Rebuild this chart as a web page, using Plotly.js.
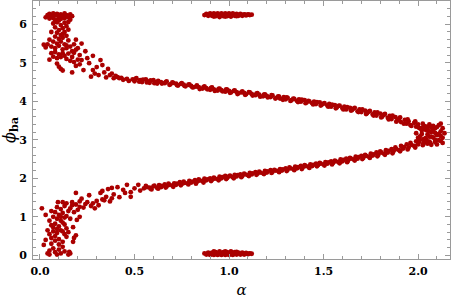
<!DOCTYPE html>
<html><head><meta charset="utf-8">
<script src="https://cdn.plot.ly/plotly-3.0.1.min.js"></script>
<style>body{margin:0;background:#fff}#c{width:454px;height:300px}</style>
</head><body><div id="c"></div>
<script>
// Upper-left cluster
const upperClusterX = [0.03,0.04,0.05,0.05,0.06,0.07,0.07,0.08,0.09,0.09,0.10,0.11,0.11,0.12,0.13,0.13,0.14,0.15,0.16,0.16,0.17,
 0.07,0.08,0.09,0.10,0.11,0.12,0.13,0.14,0.09,0.11,0.13,0.08,0.10,0.12,0.14,0.15,0.07,0.09,0.11,0.13,0.15,0.16,0.06,0.08,0.10,0.12,0.14,0.17,0.05,0.04,0.03,0.02,0.06,0.08,0.10,0.12,0.13,0.15,0.17,0.18,0.19,0.11,0.09,0.07,0.14,0.16,0.18,0.05,0.09,0.10,0.11,0.12,0.17,0.19,0.14,0.12,0.10,0.08,0.15,0.06,0.18,0.20,0.21];
const upperClusterY = [6.18,6.24,6.15,6.27,6.21,6.28,6.16,6.23,6.27,6.12,6.20,6.26,6.14,6.22,6.28,6.16,6.24,6.18,6.26,6.12,6.21,
 6.02,5.92,6.05,5.85,5.98,5.90,6.04,5.95,5.78,5.72,5.80,5.68,5.62,5.65,5.70,5.86,5.55,5.50,5.55,5.48,5.58,5.42,5.42,5.38,5.44,5.35,5.38,5.30,5.60,5.48,5.40,5.47,5.25,5.28,5.22,5.25,5.18,5.24,5.15,5.26,5.34,5.15,5.12,5.16,5.10,5.05,5.02,5.08,4.98,4.90,4.84,4.80,4.75,4.92,5.45,5.75,6.10,6.08,6.06,5.80,5.48,5.08,4.96];

// Upper branch, scattered start
const upperScatterX = [0.19,0.20,0.21,0.22,0.22,0.23,0.24,0.25,0.26,0.27,0.28,0.28,0.29,0.30,0.31,0.32,0.33,0.34,0.35,0.36,0.37,0.38,0.39,0.40,0.41,0.43];
const upperScatterY = [5.60,5.38,5.20,5.50,5.07,4.81,5.30,5.12,4.99,4.64,4.81,5.18,4.72,4.89,4.68,5.07,4.94,4.75,4.62,4.84,4.68,4.72,4.60,4.66,4.63,4.61];

// Upper branch
const upperBranchX = [0.42,0.44,0.46,0.47,0.49,0.50,0.51,0.53,0.54,0.56,0.57,0.58,0.60,0.61,0.62,0.64,0.66,0.67,0.69,0.70,0.72,0.73,0.75,0.76,0.77,0.79,0.80,0.81,0.83,0.84,0.86,0.87,0.88,0.90,0.91,0.92,0.94,0.95,0.96,0.98,0.99,1.00,1.01,1.03,1.04,1.05,1.07,1.08,1.09,1.11,1.12,1.14,1.15,1.16,1.18,1.19,1.20,1.22,1.23,1.25,1.26,1.27,1.29,1.30,1.31,1.33,1.34,1.36,1.37,1.38,1.40,1.41,1.42,1.44,1.45,1.46,1.48,1.49,1.50,1.52,1.53,1.54,1.56,1.57,1.58,1.60,1.61,1.62,1.64,1.65,1.66,1.68,1.69,1.70,1.72,1.73,1.74,1.76,1.77,1.78,1.80,1.81,1.82,1.84,1.85,1.86,1.88,1.89,1.90,1.91,1.93,1.94,1.95,1.96,1.98,1.99,2.00,2.01,2.03,2.04,2.05,2.06,2.08,2.09];
const upperBranchY = [4.60,4.56,4.58,4.53,4.57,4.52,4.60,4.55,4.50,4.57,4.52,4.48,4.55,4.50,4.46,4.50,4.47,4.52,4.44,4.49,4.46,4.41,4.47,4.43,4.39,4.44,4.40,4.36,4.41,4.37,4.33,4.39,4.34,4.30,4.36,4.31,4.28,4.33,4.29,4.25,4.30,4.27,4.23,4.28,4.24,4.21,4.26,4.22,4.18,4.23,4.19,4.16,4.21,4.17,4.13,4.18,4.14,4.11,4.15,4.09,4.13,4.07,4.11,4.05,4.09,4.03,4.07,4.01,4.05,3.99,4.03,3.97,4.01,3.95,3.99,3.93,3.97,3.91,3.94,3.89,3.93,3.86,3.90,3.84,3.88,3.82,3.86,3.79,3.83,3.77,3.81,3.74,3.79,3.72,3.76,3.69,3.73,3.66,3.71,3.63,3.68,3.60,3.65,3.57,3.62,3.54,3.59,3.50,3.55,3.46,3.52,3.42,3.48,3.38,3.44,3.34,3.40,3.30,3.36,3.26,3.32,3.22,3.28,3.18];
const upperBranch2X = [0.505,0.525,0.545,0.565,0.585,0.605,0.625,0.645,0.665,0.685,0.705,0.725,0.745,0.765,0.785,0.805,0.825,0.845,0.865,0.885,0.905,0.925,0.945,0.965,0.985,1.005,1.025,1.045,1.065,1.085,1.105,1.125,1.145,1.165,1.185,1.205,1.225,1.245,1.265,1.285,1.305,1.325,1.345,1.365,1.385,1.405,1.425,1.445,1.465,1.485,1.505,1.525,1.545,1.565,1.585,1.605,1.625,1.645,1.665,1.685,1.705,1.725,1.745,1.765,1.785,1.805,1.825,1.845,1.865,1.885,1.905,1.925,1.945,1.965,1.985,2.005,2.025,2.045,2.065];
const upperBranch2Y = [4.58,4.51,4.56,4.49,4.54,4.47,4.53,4.46,4.50,4.43,4.48,4.42,4.45,4.40,4.43,4.37,4.38,4.32,4.37,4.31,4.35,4.27,4.32,4.26,4.31,4.22,4.27,4.19,4.23,4.17,4.24,4.15,4.20,4.12,4.17,4.10,4.16,4.07,4.12,4.04,4.10,4.01,4.06,3.98,4.04,3.95,4.00,3.92,3.98,3.89,3.95,3.86,3.91,3.82,3.89,3.79,3.85,3.76,3.83,3.72,3.79,3.67,3.75,3.63,3.71,3.58,3.67,3.53,3.63,3.47,3.58,3.42,3.53,3.36,3.48,3.31,3.42,3.27,3.35];

// Tip cluster
const tipX = [1.99,2.01,2.02,2.03,2.05,2.06,2.07,2.08,2.09,2.10,2.11,2.12,2.13,2.11,2.10,2.14,2.12,2.13,2.04,2.03,2.06,2.07,2.09,2.08,2.12,2.00,2.02,2.05,2.02,2.04,2.06,2.08,2.10,2.11,2.09,2.07,2.05,2.12,2.13];
const tipY = [3.17,3.09,3.25,3.02,3.14,2.95,3.20,3.06,3.30,3.12,2.99,3.22,3.05,3.38,2.88,3.17,3.42,2.92,3.35,2.93,3.40,2.87,3.00,3.36,3.10,3.05,3.15,3.24,3.30,2.99,3.08,3.27,3.33,3.15,2.94,3.32,2.90,2.97,3.30];

// Lower branch
const lowerBranchX = [0.55,0.56,0.58,0.59,0.60,0.62,0.63,0.64,0.66,0.67,0.68,0.70,0.71,0.72,0.74,0.75,0.76,0.78,0.79,0.80,0.82,0.83,0.84,0.86,0.87,0.88,0.90,0.91,0.92,0.94,0.95,0.96,0.98,0.99,1.00,1.02,1.03,1.04,1.06,1.07,1.08,1.10,1.11,1.12,1.14,1.15,1.16,1.18,1.19,1.20,1.22,1.23,1.24,1.26,1.27,1.28,1.30,1.31,1.32,1.34,1.35,1.36,1.38,1.39,1.40,1.42,1.43,1.44,1.46,1.47,1.48,1.50,1.51,1.52,1.54,1.55,1.56,1.58,1.59,1.60,1.62,1.63,1.64,1.66,1.67,1.68,1.70,1.71,1.72,1.74,1.75,1.76,1.78,1.79,1.80,1.82,1.83,1.84,1.86,1.87,1.88,1.90,1.91,1.92,1.94,1.95,1.96,1.98,1.99,2.00,2.01,2.03,2.04,2.05,2.07];
const lowerBranchY = [1.74,1.80,1.76,1.71,1.79,1.75,1.82,1.77,1.84,1.79,1.86,1.81,1.87,1.83,1.90,1.85,1.91,1.87,1.93,1.89,1.95,1.91,1.97,1.93,1.99,1.95,2.00,1.96,2.02,1.98,2.04,2.00,2.06,2.01,2.05,2.03,2.09,2.05,2.10,2.06,2.12,2.08,2.14,2.10,2.16,2.12,2.17,2.13,2.19,2.15,2.21,2.17,2.22,2.19,2.24,2.20,2.26,2.22,2.28,2.24,2.30,2.26,2.32,2.28,2.34,2.30,2.36,2.32,2.38,2.34,2.40,2.36,2.42,2.38,2.44,2.40,2.46,2.42,2.49,2.44,2.51,2.46,2.53,2.49,2.56,2.51,2.58,2.53,2.61,2.56,2.64,2.59,2.67,2.61,2.70,2.64,2.73,2.67,2.76,2.70,2.80,2.73,2.84,2.77,2.88,2.80,2.92,2.84,2.96,2.88,3.00,2.91,3.04,2.95,3.08];
const lowerBranch2X = [0.565,0.585,0.605,0.625,0.645,0.665,0.685,0.705,0.725,0.745,0.765,0.785,0.805,0.825,0.845,0.865,0.885,0.905,0.925,0.945,0.965,0.985,1.005,1.025,1.045,1.065,1.085,1.105,1.125,1.145,1.165,1.185,1.205,1.225,1.245,1.265,1.285,1.305,1.325,1.345,1.365,1.385,1.405,1.425,1.445,1.465,1.485,1.505,1.525,1.545,1.565,1.585,1.605,1.625,1.645,1.665,1.685,1.705,1.725,1.745,1.765,1.785,1.805,1.825,1.845,1.865,1.885,1.905,1.925,1.945,1.965,1.985,2.005,2.025,2.045,2.065];
const lowerBranch2Y = [1.77,1.73,1.81,1.73,1.80,1.76,1.83,1.78,1.86,1.82,1.88,1.84,1.91,1.86,1.94,1.89,1.97,1.93,1.99,1.95,2.03,1.98,2.07,2.00,2.08,2.03,2.10,2.06,2.13,2.09,2.15,2.11,2.18,2.14,2.20,2.16,2.23,2.19,2.26,2.21,2.29,2.24,2.32,2.27,2.35,2.31,2.38,2.33,2.41,2.36,2.44,2.39,2.48,2.42,2.51,2.46,2.55,2.50,2.58,2.53,2.62,2.57,2.67,2.61,2.71,2.65,2.76,2.70,2.81,2.75,2.87,2.80,2.94,2.86,2.99,2.92];

// Lower branch, scattered start
const lowerScatterX = [0.19,0.21,0.22,0.23,0.24,0.25,0.26,0.27,0.28,0.29,0.30,0.31,0.32,0.33,0.33,0.34,0.35,0.36,0.37,0.38,0.38,0.39,0.41,0.42,0.44,0.45,0.46,0.48,0.48,0.50,0.52,0.53];
const lowerScatterY = [1.62,1.40,1.47,1.24,1.33,1.38,1.56,1.28,1.35,1.22,1.41,1.30,1.62,1.45,1.67,1.43,1.52,1.72,1.40,1.75,1.48,1.58,1.77,1.51,1.70,1.62,1.83,1.64,1.52,1.74,1.83,1.68];

// Lower-left cluster
const lowerClusterX = [0.01,0.03,0.02,0.04,0.05,0.05,0.06,0.07,0.08,0.09,0.10,0.11,0.12,0.13,0.06,0.08,0.10,0.12,0.05,0.07,0.09,0.11,0.13,0.14,0.06,0.08,0.10,0.12,0.09,0.11,0.13,0.07,0.05,0.08,0.10,0.12,0.14,0.15,0.06,0.09,0.11,0.13,0.095,0.12,0.14,0.16,0.17,0.18,0.16,0.15,0.155,0.175,0.18,0.19,0.195,0.175,0.21,0.16,0.15,0.14,0.10,0.07,0.04,0.03,0.11,0.13,0.09,0.08,0.12,0.20,0.19,0.21,0.17];
const lowerClusterY = [1.22,1.05,0.27,0.05,0.12,0.02,0.30,0.18,0.08,0.02,0.15,0.05,0.22,0.10,0.45,0.38,0.42,0.35,0.55,0.62,0.58,0.65,0.55,0.70,0.78,0.82,0.75,0.85,0.95,0.90,0.98,1.00,0.90,1.12,1.05,1.10,1.02,1.15,1.15,1.25,1.20,1.28,1.38,1.38,1.35,1.22,1.30,1.12,0.05,0.02,0.09,0.35,0.45,0.52,0.92,0.73,1.00,0.95,0.60,0.48,0.28,0.72,0.65,0.40,1.00,0.80,0.68,0.50,0.62,1.18,1.32,1.26,1.38];

// Band near phi = 2π
const topBandX = [0.88,0.90,0.92,0.94,0.96,0.98,1.00,1.02,1.04,1.06,1.08,1.10,1.12,0.87,0.89,0.91,0.93,0.95,0.97,0.99,1.01,1.03,1.05,1.07,1.09,1.11,0.885,0.905,0.925,0.945,0.965,0.985,1.005,1.025,1.045,1.065,1.085,1.105,0.92,0.95,0.98,1.01,1.04];
const topBandY = [6.27,6.28,6.28,6.28,6.28,6.28,6.28,6.28,6.27,6.27,6.26,6.26,6.25,6.24,6.22,6.22,6.21,6.21,6.21,6.21,6.21,6.22,6.22,6.22,6.23,6.24,6.25,6.25,6.25,6.25,6.25,6.25,6.25,6.25,6.25,6.25,6.25,6.25,6.20,6.19,6.20,6.20,6.21];

// Band near phi = 0
const bottomBandX = [0.88,0.90,0.92,0.94,0.96,0.98,1.00,1.02,1.04,1.06,1.08,1.10,1.12,0.87,0.89,0.91,0.93,0.95,0.97,0.99,1.01,1.03,1.05,1.07,1.09,1.11,0.885,0.905,0.925,0.945,0.965,0.985,1.005,1.025,1.045,1.065,1.085,1.105,0.92,0.95,0.98,1.01,1.04];
const bottomBandY = [0.02,0.01,0.01,0.01,0.01,0.01,0.01,0.01,0.02,0.02,0.02,0.03,0.04,0.05,0.07,0.07,0.08,0.08,0.08,0.08,0.08,0.08,0.07,0.07,0.06,0.05,0.04,0.04,0.04,0.04,0.04,0.04,0.04,0.04,0.04,0.04,0.04,0.04,0.10,0.10,0.10,0.10,0.09];

const groups = [
  [upperClusterX, upperClusterY], [upperScatterX, upperScatterY], [upperBranchX, upperBranchY],
  [upperBranch2X, upperBranch2Y], [tipX, tipY], [lowerBranchX, lowerBranchY], [lowerBranch2X, lowerBranch2Y],
  [lowerScatterX, lowerScatterY], [lowerClusterX, lowerClusterY], [topBandX, topBandY], [bottomBandX, bottomBandY]
];
const data = groups.map(g => ({
  x: g[0], y: g[1], type: 'scatter', mode: 'markers', showlegend: false, hoverinfo: 'none',
  marker: {color: '#aa0000', size: 4.8, line: {width: 0}}
}));

const serif = 'DejaVu Serif';
const tickFont = {family: serif, size: 11, color: '#000', weight: 'bold'};
const frameCol = '#9a9a9a';
const layout = {
  width: 454, height: 300,
  margin: {l: 33, r: 4, t: 1, b: 41},
  paper_bgcolor: '#fff', plot_bgcolor: '#fff',
  font: {family: serif, color: '#000'},
  xaxis: {
    range: [-0.037, 2.169], autorange: false,
    tickvals: [0, 0.5, 1, 1.5, 2], ticktext: ['0.0','0.5','1.0','1.5','2.0'],
    ticks: 'inside', ticklen: 5, tickwidth: 1, tickcolor: frameCol,
    minor: {ticks: 'inside', dtick: 0.1, tick0: 0, ticklen: 3, tickcolor: frameCol, showgrid: false},
    showline: true, linecolor: frameCol, linewidth: 1, mirror: 'allticks',
    showgrid: false, zeroline: false, tickfont: tickFont, ticklabelstandoff: 2,
    title: {text: '<i>α</i>', font: {family: serif, size: 15, color: '#000'}, standoff: 7}
  },
  yaxis: {
    range: [-0.096, 6.605], autorange: false,
    tickvals: [0,1,2,3,4,5,6], ticktext: ['0','1','2','3','4','5','6'],
    ticks: 'inside', ticklen: 5, tickwidth: 1, tickcolor: frameCol,
    minor: {ticks: 'inside', dtick: 0.2, tick0: 0, ticklen: 3, tickcolor: frameCol, showgrid: false},
    showline: true, linecolor: frameCol, linewidth: 1, mirror: 'allticks',
    showgrid: false, zeroline: false, tickfont: tickFont, ticklabelstandoff: 3,
    title: {text: '<i>ϕ</i><sub><b>ba</b></sub>', font: {family: serif, size: 16, color: '#000'}, standoff: 5}
  }
};
Plotly.newPlot('c', data, layout, {staticPlot: true, displayModeBar: false});
</script>
</body></html>
